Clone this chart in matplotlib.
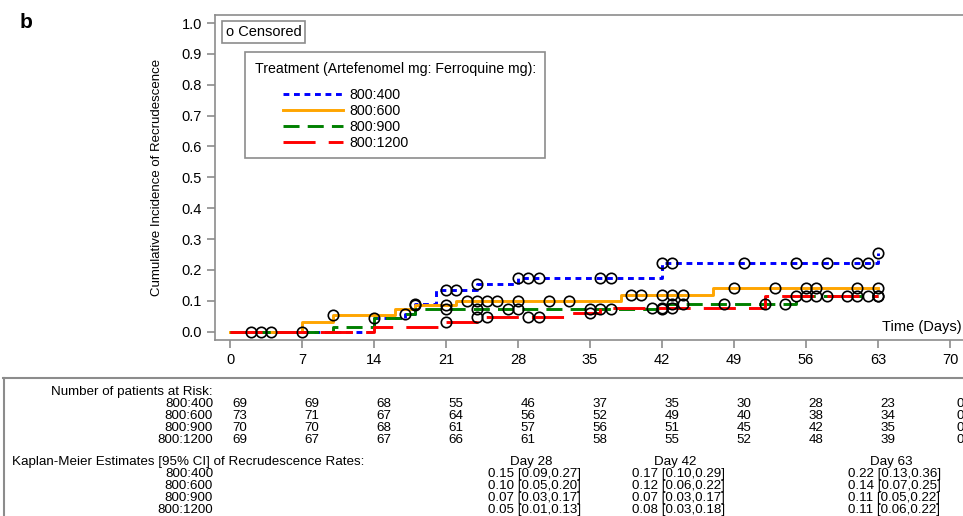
import numpy as np
import matplotlib.pyplot as plt
import matplotlib.transforms as mtransforms
from matplotlib.patches import Rectangle
from matplotlib.lines import Line2D

plt.rcParams['font.family'] = ['Liberation Sans', 'DejaVu Sans']

#%% data

groups = ['800:400', '800:600', '800:900', '800:1200']
colors = ['#0000FF', '#FFA500', '#008000', '#FF0000']
dashes = [(2.0, 1.6), (None), (5.5, 2.8), (11.0, 4.5)]

# step curves (time of step, cumulative incidence after step)
blue_t = [0, 14, 17, 18, 20, 24, 28, 42, 63]
blue_y = [0, 0.044, 0.058, 0.09, 0.135, 0.155, 0.175, 0.222, 0.255]
blue_cens = [18, 21, 22, 24, 28, 29, 30, 36, 37, 42, 43, 50, 55, 58, 61, 62, 63]

orange_t = [0, 7, 10, 16, 18, 22, 38, 47, 63]
orange_y = [0, 0.03, 0.055, 0.072, 0.087, 0.10, 0.118, 0.141, 0.141]
orange_cens = [10, 18, 21, 23, 24, 25, 26, 28, 31, 33, 39, 40, 42, 43, 44, 49, 53, 56, 57, 61, 63]

green_t = [0, 10, 14, 17, 18, 42.5, 55, 63]
green_y = [0, 0.015, 0.043, 0.058, 0.073, 0.09, 0.114, 0.114]
green_cens = [14, 17, 21, 24, 27, 28, 35, 36, 37, 42, 43, 44, 48, 52, 54, 55, 63]

red_t = [0, 14, 21, 24, 33, 36, 52, 63]
red_y = [0, 0.015, 0.03, 0.046, 0.062, 0.078, 0.114, 0.114]
red_cens = [2, 3, 4, 7, 21, 24, 25, 29, 30, 35, 41, 42, 43, 56, 57, 58, 60, 61, 62, 63]

risk_days = [0, 7, 14, 21, 28, 35, 42, 49, 56, 63, 70]
risk_400 = [69, 69, 68, 55, 46, 37, 35, 30, 28, 23, 0]
risk_600 = [73, 71, 67, 64, 56, 52, 49, 40, 38, 34, 0]
risk_900 = [70, 70, 68, 61, 57, 56, 51, 45, 42, 35, 0]
risk_1200 = [69, 67, 67, 66, 61, 58, 55, 52, 48, 39, 0]

km_days = [28, 42, 63]
km_400 = ['0.15 [0.09,0.27]', '0.17 [0.10,0.29]', '0.22 [0.13,0.36]']
km_600 = ['0.10 [0.05,0.20]', '0.12 [0.06,0.22]', '0.14 [0.07,0.25]']
km_900 = ['0.07 [0.03,0.17]', '0.07 [0.03,0.17]', '0.11 [0.05,0.22]']
km_1200 = ['0.05 [0.01,0.13]', '0.08 [0.03,0.18]', '0.11 [0.06,0.22]']

curves = [(blue_t, blue_y, blue_cens), (orange_t, orange_y, orange_cens),
          (green_t, green_y, green_cens), (red_t, red_y, red_cens)]
risk = [risk_400, risk_600, risk_900, risk_1200]
km = [km_400, km_600, km_900, km_1200]

#%% figure

W, H = 963, 516
fig = plt.figure(figsize=(W / 100, H / 100), dpi=100)

def fx(px):
    return px / W

def fy(py):
    return 1 - py / H

ax = fig.add_axes([fx(215), fy(340), fx(968 - 215), fy(15) - fy(340)])
ax.set_xlim(-1.46, 71.75)
ax.set_ylim(-0.027, 1.026)

grey = '#8c8c8c'
for s in ['left', 'bottom', 'top', 'right']:
    ax.spines[s].set_color(grey)
    ax.spines[s].set_linewidth(1.2)
ax.tick_params(colors=grey, labelcolor='black', length=6, width=1.2, labelsize=10.5)
ax.set_xticks(risk_days)
ax.set_yticks(np.arange(0, 1.01, 0.1))
ax.set_yticklabels(['%.1f' % v for v in np.arange(0, 1.01, 0.1)])

for (t, y, cens), c, d in zip(curves, colors, dashes):
    ln, = ax.step(t, y, where='post', color=c, linewidth=2.1)
    if d is not None:
        ln.set_dashes(d)
for (t, y, cens) in curves:
    idx = np.searchsorted(t, cens, side='right') - 1
    cy = np.array(y)[idx]
    ax.plot(cens, cy, linestyle='none', marker='o', markersize=7.5,
            markerfacecolor='none', markeredgecolor='black', markeredgewidth=1.2)

ax.text(0.9985, fy(327), 'Time (Days)', transform=fig.transFigure,
        ha='right', va='center', fontsize=10.5)

fig.text(fx(157), fy(177), 'Cumulative Incidence of Recrudescence', rotation=90,
         ha='center', va='center', fontsize=9.5)
fig.text(fx(20), fy(22), 'b', fontsize=15, fontweight='bold', ha='left', va='center')

# censored box
fig.text(fx(226), fy(32), 'o Censored', fontsize=10.5, ha='left', va='center',
         bbox=dict(boxstyle='square,pad=0.25', facecolor='white', edgecolor=grey, linewidth=1.2))

# treatment legend
fig.patches.append(Rectangle((fx(245), fy(158)), fx(545 - 245), fy(52) - fy(158),
                             transform=fig.transFigure, facecolor='white', edgecolor=grey, linewidth=1.2))
fig.text(fx(255), fy(69), 'Treatment (Artefenomel mg: Ferroquine mg):', fontsize=10.2, ha='left', va='center')
handles = []
for g, c, d in zip(groups, colors, dashes):
    h = Line2D([], [], color=c, linewidth=2.1, label=g)
    if d is not None:
        h.set_dashes(d)
    handles.append(h)
fig.legend(handles=handles, loc='upper left', bbox_to_anchor=(fx(276), fy(81)), frameon=False,
           fontsize=10.3, handlelength=4.2, handletextpad=0.4, labelspacing=0.13, borderpad=0)

# at risk table
fig.add_artist(Line2D([fx(3), fx(963)], [fy(378), fy(378)], color=grey, linewidth=1.5))
fig.add_artist(Line2D([fx(3.5), fx(3.5)], [fy(378), 0], color=grey, linewidth=1.5))

tfs = 9.6
tr = mtransforms.blended_transform_factory(ax.transData, fig.transFigure)
fig.text(fx(213), fy(392), 'Number of patients at Risk:', ha='right', va='center', fontsize=tfs)
for i, g in enumerate(groups):
    yy = fy(404 + 12 * i)
    fig.text(fx(213), yy, g, ha='right', va='center', fontsize=tfs)
    for d, n in zip(risk_days, risk[i]):
        ax.text(d + 0.95, yy, str(n), transform=tr, ha='center', va='center', fontsize=tfs, clip_on=False)

fig.text(fx(12), fy(462), 'Kaplan-Meier Estimates [95% CI] of Recrudescence Rates:', ha='left', va='center', fontsize=tfs)
for d in km_days:
    ax.text(d + 1.3, fy(462), 'Day %d' % d, transform=tr, ha='center', va='center', fontsize=tfs, clip_on=False)
for i, g in enumerate(groups):
    yy = fy(474 + 12 * i)
    fig.text(fx(213), yy, g, ha='right', va='center', fontsize=tfs)
    for d, s in zip(km_days, km[i]):
        ax.text(d + 1.6, yy, s, transform=tr, ha='center', va='center', fontsize=tfs, clip_on=False)

plt.savefig('out.png', dpi=100)
